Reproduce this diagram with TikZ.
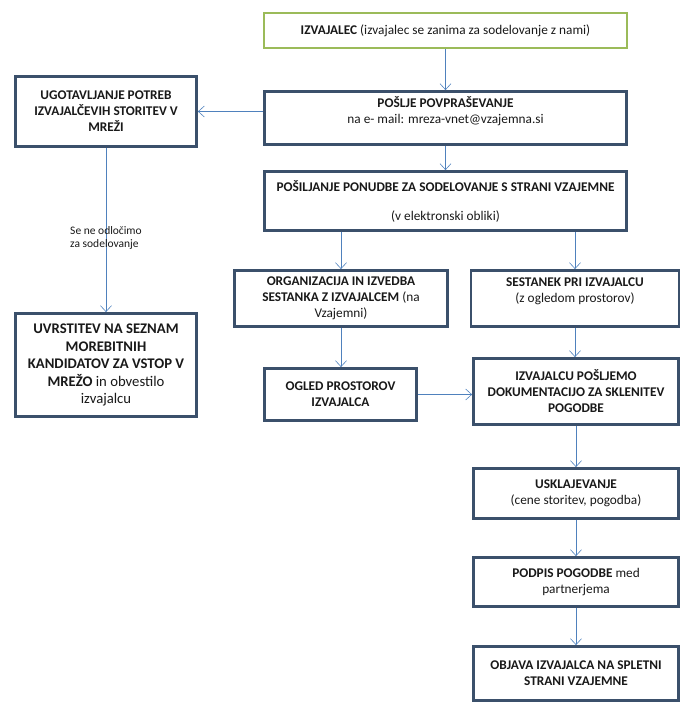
\documentclass[tikz,border=0pt]{standalone}
\usepackage{fontspec}
\setmainfont{Carlito}
\usepackage{xcolor}
\usetikzlibrary{arrows.meta,positioning}
\definecolor{boxblue}{RGB}{59,80,107}
\definecolor{boxgreen}{RGB}{155,187,89}
\definecolor{arrblue}{RGB}{79,129,189}
\definecolor{txt}{RGB}{25,25,25}

\begin{document}
\begin{tikzpicture}[x=1pt, y=-1pt,
    box/.style={rectangle, draw=boxblue, line width=2.8pt, fill=white, align=center, inner sep=2pt, text=txt, font=\fontsize{13.3}{16}\selectfont},
    gbox/.style={box, draw=boxgreen, line width=2.2pt},
    arr/.style={-{Straight Barb[length=6pt, width=11pt]}, arrblue, line width=0.6pt},
    lbl/.style={align=left, text=txt, font=\fontsize{11.5}{13}\selectfont}
]
    \useasboundingbox (0,0) rectangle (694,720);
    % top row
    \node[gbox, minimum width=363pt, minimum height=35pt] (izv) at (445.5,30.5) {\textbf{IZVAJALEC} (izvajalec se zanima za sodelovanje z nami)};
    \node[box, minimum width=181pt, minimum height=70pt] (ugot) at (106,111.5) {\textbf{UGOTAVLJANJE POTREB}\\\textbf{IZVAJALČEVIH STORITEV V}\\\textbf{MREŽI}};
    \node[box, minimum width=362pt, minimum height=53pt] (poslje) at (445.5,118) {\textbf{POŠLJE POVPRAŠEVANJE}\\na e- mail: mreza-vnet@vzajemna.si\\\mbox{}};
    \node[box, minimum width=362pt, minimum height=59pt] (ponudba) at (445.5,201) {\textbf{POŠILJANJE PONUDBE ZA SODELOVANJE S STRANI VZAJEMNE}\\[13pt](v elektronski obliki)};
    % middle
    \node[box, minimum width=213pt, minimum height=56pt] (org) at (341,298.5) {\textbf{ORGANIZACIJA IN IZVEDBA}\\\textbf{SESTANKA Z IZVAJALCEM} (na\\Vzajemni)};
    \node[box, minimum width=208pt, minimum height=56pt] (sest) at (575,298.5) {\textbf{SESTANEK PRI IZVAJALCU}\\(z ogledom prostorov)\\\mbox{}};
    \node[box, font=\fontsize{14.7}{17.5}\selectfont, minimum width=181pt, minimum height=103pt] (uvrst) at (106,365) {\textbf{UVRSTITEV NA SEZNAM}\\\textbf{MOREBITNIH}\\\textbf{KANDIDATOV ZA VSTOP V}\\\textbf{MREŽO} in obvestilo\\izvajalcu};
    \node[box, minimum width=152pt, minimum height=52pt] (ogled) at (340.5,394.5) {\textbf{OGLED PROSTOROV}\\\textbf{IZVAJALCA}};
    \node[box, minimum width=205pt, minimum height=66pt] (dok) at (576,391.5) {\textbf{IZVAJALCU POŠLJEMO}\\\textbf{DOKUMENTACIJO ZA SKLENITEV}\\\textbf{POGODBE}};
    % bottom column
    \node[box, minimum width=205pt, minimum height=50pt] (uskl) at (576,493.5) {\textbf{USKLAJEVANJE}\\(cene storitev, pogodba)};
    \node[box, minimum width=205pt, minimum height=49pt] (podpis) at (576,582) {\textbf{PODPIS POGODBE} med\\partnerjema};
    \node[box, minimum width=205pt, minimum height=54pt] (objava) at (576,673.5) {\textbf{OBJAVA IZVAJALCA NA SPLETNI}\\\textbf{STRANI VZAJEMNE}};

    \draw[arr] (izv) -- (poslje);
    \draw[arr] (ugot -| poslje.west) -- (ugot.east);
    \draw[arr] (poslje) -- (ponudba);
    \draw[arr] (ugot) -- node[lbl, pos=0.55] (odl) {Se ne odločimo\\za sodelovanje} (uvrst);
    \draw[arr] (ponudba.south -| org) -- (org);
    \draw[arr] (ponudba.south -| sest) -- (sest);
    \draw[arr] (org.south) -- (org.south |- ogled.north);
    \draw[arr] (sest.south) -- (sest.south |- dok.north);
    \draw[arr] (ogled.east) -- (ogled.east -| dok.west);
    \draw[arr] (dok) -- (uskl);
    \draw[arr] (uskl) -- (podpis);
    \draw[arr] (podpis) -- (objava);
\end{tikzpicture}
\end{document}
